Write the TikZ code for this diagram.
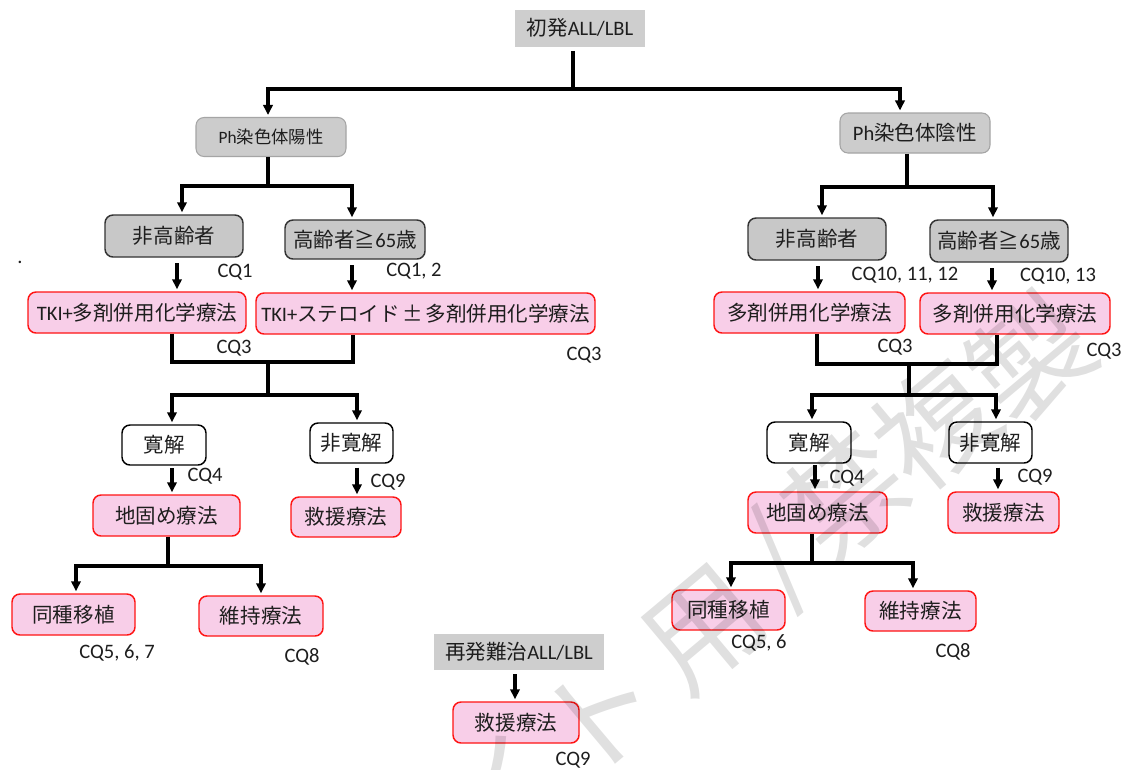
\documentclass[tikz,border=0pt]{standalone}
\usepackage{fontspec}
\setmainfont{Carlito}
\newfontfamily\jp{Noto Sans CJK JP}
\usetikzlibrary{arrows.meta,calc}
\definecolor{pinkfill}{RGB}{248,206,232}
\definecolor{pinkline}{RGB}{255,20,20}
\definecolor{greyfill}{RGB}{200,200,200}
\definecolor{phfill}{RGB}{204,204,204}
\definecolor{phline}{RGB}{165,165,165}
\definecolor{topfill}{RGB}{206,206,206}
\definecolor{txt}{RGB}{30,30,30}
\tikzset{
  sz/.style 2 args={minimum width=#1*0.75pt, minimum height=#2*0.75pt},
  base/.style={text=txt, font=\fontsize{15.4}{18}\selectfont, inner sep=0pt, align=center},
  pinkbox/.style={base, draw=pinkline, fill=pinkfill, line width=1.1pt, rounded corners=6pt},
  agebox/.style={base, draw=black!80, fill=greyfill, line width=1.1pt, rounded corners=6pt},
  phbox/.style={base, draw=phline, fill=phfill, line width=0.8pt, rounded corners=6pt},
  flatbox/.style={base, fill=topfill},
  rembox/.style={base, draw=black, fill=white, line width=1.1pt, rounded corners=6pt},
  cq/.style={base},
  conn/.style={line width=2.3pt, black},
  arr/.style={conn, -{Triangle[length=7.5pt,width=7pt]}, shorten >=1.5pt},
  wm/.style={font=\jp\fontsize{88}{88}\selectfont, text=black, text opacity=0.12, rotate=40, inner sep=0pt},
}
\begin{document}
\begin{tikzpicture}[x=0.75pt,y=-0.75pt]
\useasboundingbox (0,0) rectangle (1121,769);
\fill[white] (0,0) rectangle (1121,769);

% ---------- nodes ----------
\node[flatbox, sz={130}{37}] (top) at (580,28) {{\jp 初発}ALL/LBL};
\node[phbox, sz={150}{39}, font=\fontsize{13}{15}\selectfont] (phpos) at (271,137) {Ph{\jp 染色体陽性}};
\node[phbox, sz={150}{40}] (phneg) at (915,133) {Ph{\jp 染色体陰性}};

% left
\node[agebox, sz={138}{42}] (Lyoung) at (174,236) {{\jp 非高齢者}};
\node[agebox, sz={140}{39}] (Lold) at (355,239.5) {{\jp 高齢者≧}65{\jp 歳}};
\node[pinkbox, sz={218}{41}] (Ltki1) at (137,312.5) {TKI+{\jp 多剤併用化学療法}};
\node[pinkbox, sz={339}{41}] (Ltki2) at (425.5,313.5) {TKI+{\jp ステロイド\hspace{0.12em}±\hspace{0.12em}多剤併用化学療法}};
\node[rembox, sz={84}{40}] (Lrem) at (164,445) {{\jp 寛解}};
\node[rembox, sz={83}{40}] (Lnrem) at (351.5,443) {{\jp 非寛解}};
\node[pinkbox, sz={147}{41}] (Lcons) at (166.5,515.5) {{\jp 地固め療法}};
\node[pinkbox, sz={110}{40}] (Lsalv) at (346,517) {{\jp 救援療法}};
\node[pinkbox, sz={123}{41}] (Lallo) at (73.5,614.5) {{\jp 同種移植}};
\node[pinkbox, sz={124}{40}] (Lmaint) at (261,616) {{\jp 維持療法}};

% right
\node[agebox, sz={138}{42}] (Ryoung) at (817,239) {{\jp 非高齢者}};
\node[agebox, sz={138}{42}] (Rold) at (999,241) {{\jp 高齢者≧}65{\jp 歳}};
\node[pinkbox, sz={191}{41}] (Rchemo1) at (809.5,312.5) {{\jp 多剤併用化学療法}};
\node[pinkbox, sz={190}{41}] (Rchemo2) at (1015,313.5) {{\jp 多剤併用化学療法}};
\node[rembox, sz={84}{41}] (Rrem) at (809,442.5) {{\jp 寛解}};
\node[rembox, sz={83}{41}] (Rnrem) at (990.5,442.5) {{\jp 非寛解}};
\node[pinkbox, sz={139}{41}] (Rcons) at (817.5,512.5) {{\jp 地固め療法}};
\node[pinkbox, sz={111}{41}] (Rsalv) at (1003.5,512.5) {{\jp 救援療法}};
\node[pinkbox, sz={113}{40}] (Rallo) at (728.5,610) {{\jp 同種移植}};
\node[pinkbox, sz={111}{40}] (Rmaint) at (920.5,611) {{\jp 維持療法}};

% bottom
\node[flatbox, sz={170}{36}] (relapse) at (519,652) {{\jp 再発難治}ALL/LBL};
\node[pinkbox, sz={126}{41}] (Bsalv) at (516,722.5) {{\jp 救援療法}};

% labels
\node[cq] (dot) at (20,262) {.};
\node[cq] (q1) at (235,272) {CQ1};
\node[cq] (q2) at (414,271) {CQ1, 2};
\node[cq] (q3) at (234,348) {CQ3};
\node[cq] (q4) at (584,355) {CQ3};
\node[cq] (q5) at (205,476) {CQ4};
\node[cq] (q6) at (388,482) {CQ9};
\node[cq] (q7) at (117,653) {CQ5, 6, 7};
\node[cq] (q8) at (302,657) {CQ8};
\node[cq] (q9) at (905,275) {CQ10, 11, 12};
\node[cq] (q10) at (1058,276) {CQ10, 13};
\node[cq] (q11) at (895,347) {CQ3};
\node[cq] (q12) at (1104,351) {CQ3};
\node[cq] (q13) at (847,478) {CQ4};
\node[cq] (q14) at (1035,477) {CQ9};
\node[cq] (q15) at (759,643) {CQ5, 6};
\node[cq] (q16) at (953,652) {CQ8};
\node[cq] (q17) at (573,760) {CQ9};

% ---------- coordinates ----------
\coordinate (jA) at (573,89);
\coordinate (cA1) at (268,0);
\coordinate (cA2) at (900,0);
\coordinate (jL1) at (268,186);
\coordinate (cL1) at (182,0);
\coordinate (cL2) at (352,0);
\coordinate (cL3) at (177,0);
\coordinate (cL4) at (172,0);
\coordinate (cL5) at (353,0);
\coordinate (jL2) at (268,362);
\coordinate (jL3) at (268,395);
\coordinate (cL6) at (357,0);
\coordinate (jL4) at (168,566);
\coordinate (cL7) at (76,0);
\coordinate (cL8) at (261,0);
\coordinate (jR1) at (907,187);
\coordinate (cR1) at (822,0);
\coordinate (cR2) at (993,0);
\coordinate (cR3) at (818,0);
\coordinate (cR4) at (992,0);
\coordinate (cR5) at (817,0);
\coordinate (cR6) at (997,0);
\coordinate (jR2) at (909,364);
\coordinate (jR3) at (909,395);
\coordinate (cR7) at (812,0);
\coordinate (cR8) at (996,0);
\coordinate (cR9) at (815,0);
\coordinate (cR10) at (998,0);
\coordinate (jR4) at (812,563);
\coordinate (cR11) at (731,0);
\coordinate (cR12) at (913,0);
\coordinate (cB) at (515,0);

% ---------- connectors ----------
\draw[conn, shorten <=3pt] (jA |- top.south) -- (jA);
\draw[arr] (jA) -| (cA1 |- phpos.north);
\draw[arr] (jA) -| (cA2 |- phneg.north);

% left
\draw[conn] (jL1 |- phpos.south) -- (jL1);
\draw[arr] (jL1) -| (cL1 |- Lyoung.north);
\draw[arr] (jL1) -| (cL2 |- Lold.north);
\draw[arr, shorten <=4pt] (cL3 |- Lyoung.south) -- (cL3 |- Ltki1.north);
\draw[arr, shorten <=4pt] (cL2 |- Lold.south) -- (cL2 |- Ltki2.north);
\draw[conn] (cL4 |- Ltki1.south) |- (jL2) -| (cL5 |- Ltki2.south);
\draw[conn] (jL2) -- (jL3);
\draw[arr] (jL3) -| (cL4 |- Lrem.north);
\draw[arr] (jL3) -| (cL6 |- Lnrem.north);
\draw[arr, shorten <=2pt] (cL4 |- Lrem.south) -- (cL4 |- Lcons.north);
\draw[arr, shorten <=3pt] (cL6 |- Lnrem.south) -- (cL6 |- Lsalv.north);
\draw[conn] (jL4 |- Lcons.south) -- (jL4);
\draw[arr] (jL4) -| (cL7 |- Lallo.north);
\draw[arr] (jL4) -| (cL8 |- Lmaint.north);

% right
\draw[conn] (jR1 |- phneg.south) -- (jR1);
\draw[arr] (jR1) -| (cR1 |- Ryoung.north);
\draw[arr] (jR1) -| (cR2 |- Rold.north);
\draw[arr, shorten <=4pt] (cR3 |- Ryoung.south) -- (cR3 |- Rchemo1.north);
\draw[arr, shorten <=4pt] (cR4 |- Rold.south) -- (cR4 |- Rchemo2.north);
\draw[conn] (cR5 |- Rchemo1.south) |- (jR2) -| (cR6 |- Rchemo2.south);
\draw[conn] (jR2) -- (jR3);
\draw[arr] (jR3) -| (cR7 |- Rrem.north);
\draw[arr] (jR3) -| (cR8 |- Rnrem.north);
\draw[arr, shorten <=1pt] (cR9 |- Rrem.south) -- (cR9 |- Rcons.north);
\draw[arr, shorten <=3pt] (cR10 |- Rnrem.south) -- (cR10 |- Rsalv.north);
\draw[conn] (jR4 |- Rcons.south) -- (jR4);
\draw[arr] (jR4) -| (cR11 |- Rallo.north);
\draw[arr] (jR4) -| (cR12 |- Rmaint.north);

% bottom
\draw[arr, shorten <=3pt] (cB |- relapse.south) -- (cB |- Bsalv.north);

% ---------- watermark ----------
\begin{scope}
\clip (0,0) rectangle (1121,769);
\node[wm] (w1) at (500,795) {イ};
\node[wm] (w2) at (600,715) {ト};
\node[wm] (w3) at (705,630) {用};
\node[wm] (w4) at (778,560) {/};
\node[wm] (w5) at (845,495) {禁};
\node[wm] (w6) at (935,425) {複};
\node[wm] (w7) at (1030,358) {製};
\end{scope}
\end{tikzpicture}
\end{document}
